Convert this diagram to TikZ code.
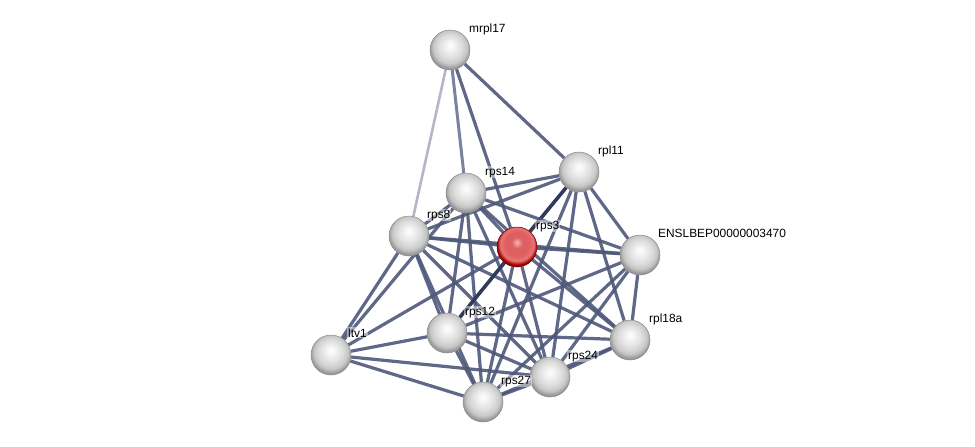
\documentclass[tikz,border=0pt]{standalone}
\usepackage{fontspec}
\setmainfont{Liberation Sans}
\usetikzlibrary{backgrounds,calc}
\definecolor{edgec}{HTML}{4E5879}
\definecolor{edged}{HTML}{313A5C}
\definecolor{edgel}{HTML}{B2B7C8}
\definecolor{edgem}{HTML}{7A82A0}
\pgfdeclareradialshading{glossygray}{\pgfpoint{0bp}{6bp}}{%
  color(0bp)=(white); color(7bp)=(white!94!black); color(15bp)=(white!86!black);
  color(21bp)=(white!78!black); color(25bp)=(white!62!black); color(28bp)=(white!55!black); color(50bp)=(white!55!black)}
\pgfdeclareradialshading{glossyred}{\pgfpoint{0bp}{6bp}}{%
  color(0bp)=(white!70!red); color(7bp)=(white!45!red!85!black); color(15bp)=(white!42!red!88!black);
  color(21bp)=(white!52!red!90!black); color(25bp)=(red!65!black); color(28bp)=(red!55!black); color(50bp)=(red!55!black)}
\begin{document}
\begin{tikzpicture}[x=1pt,y=-1pt,
  prot/.style={circle,minimum size=40pt,inner sep=0pt,shading=glossygray,draw=white!55!black,line width=0.5pt},
  hub/.style={circle,minimum size=40pt,inner sep=0pt,shading=glossyred,draw=red!40!black,line width=0.5pt},
  lbl/.style={anchor=base west,inner sep=1pt,font=\fontsize{11.9}{12}\selectfont,fill=white,fill opacity=0.45,text opacity=1},
  ed/.style={draw=edgec,line width=3.2pt,opacity=0.9},
  edd/.style={draw=edged,line width=3.4pt},
  edl/.style={draw=edgel,line width=2.6pt},
  edm/.style={draw=edgem,line width=3pt}]
\useasboundingbox (0,0) rectangle (975,447);
\node[prot] (M) at (450,50) {};
\node[prot] (L11) at (579,172) {};
\node[prot] (S14) at (466,193) {};
\node[prot] (S8) at (409,236) {};
\node[hub] (S3) at (517,247) {};
\node[prot] (E) at (640,255) {};
\node[prot] (S12) at (447,333) {};
\node[prot] (L18) at (630,340) {};
\node[prot] (T) at (331,355) {};
\node[prot] (S24) at (550,377) {};
\node[prot] (S27) at (483,402) {};
\begin{scope}[on background layer]
\draw[edl] (M) -- (S8);
\draw[edm] (M) -- (S14);
\draw[ed] (M) -- (S3);
\draw[ed] (M) -- (L11);
\foreach \b in {S14,S8,S12,S27,S24,L18,E} \draw[ed] (L11) -- (\b);
\draw[edd] (L11) -- (S3);
\foreach \b in {S8,S3,E,S12,S27,S24,L18,T} \draw[ed] (S14) -- (\b);
\foreach \b in {S3,E,T,S12,S27,S24,L18} \draw[ed] (S8) -- (\b);
\foreach \b in {E,T,S27,S24,L18} \draw[ed] (S3) -- (\b);
\draw[edd] (S3) -- (S12);
\foreach \b in {S12,S27,S24,L18} \draw[ed] (E) -- (\b);
\foreach \b in {T,S27,S24,L18} \draw[ed] (S12) -- (\b);
\draw[ed] (T) -- (S27);
\draw[ed] (T) -- (S24);
\draw[ed] (S27) -- (S24);
\draw[ed] (S27) -- (L18);
\draw[ed] (S24) -- (L18);
\end{scope}
\node[lbl] (lM) at ($(M)+(18,-18)$) {mrpl17};
\node[lbl] (lL11) at ($(L11)+(18,-18)$) {rpl11};
\node[lbl] (lS14) at ($(S14)+(18,-18)$) {rps14};
\node[lbl] (lS8) at ($(S8)+(17,-18)$) {rps8};
\node[lbl] (lS3) at ($(S3)+(18,-18)$) {rps3};
\node[lbl] (lE) at ($(E)+(17,-18)$) {ENSLBEP00000003470};
\node[lbl] (lS12) at ($(S12)+(17,-18)$) {rps12};
\node[lbl] (lL18) at ($(L18)+(18,-18)$) {rpl18a};
\node[lbl] (lT) at ($(T)+(16,-18)$) {ltv1};
\node[lbl] (lS24) at ($(S24)+(17,-18)$) {rps24};
\node[lbl] (lS27) at ($(S27)+(17,-18)$) {rps27};
\end{tikzpicture}
\end{document}
